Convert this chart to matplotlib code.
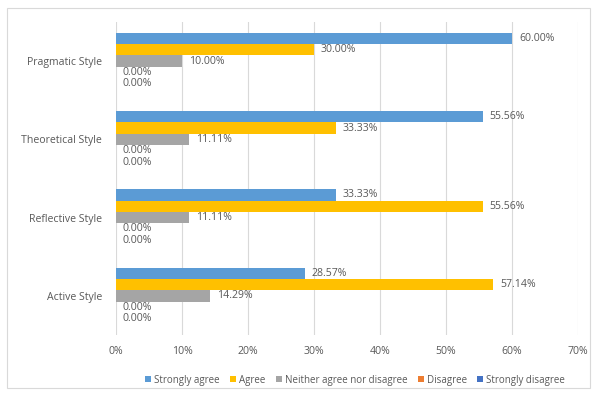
import matplotlib
matplotlib.use("Agg")
import matplotlib.pyplot as plt
from matplotlib.patches import Rectangle
import numpy as np

plt.rcParams['font.family'] = ['Open Sans', 'DejaVu Sans']

categories = ["Active Style", "Reflective Style", "Theoretical Style", "Pragmatic Style"]
series_names = ["Strongly agree", "Agree", "Neither agree nor disagree", "Disagree", "Strongly disagree"]
strongly_agree = [28.57, 33.33, 55.56, 60.00]
agree = [57.14, 55.56, 33.33, 30.00]
neither = [14.29, 11.11, 11.11, 10.00]
disagree = [0.0, 0.0, 0.0, 0.0]
strongly_disagree = [0.0, 0.0, 0.0, 0.0]
series = [strongly_agree, agree, neither, disagree, strongly_disagree]
colors = ["#5B9BD5", "#FFC000", "#A5A5A5", "#ED7D31", "#4472C4"]
xticks = [0, 10, 20, 30, 40, 50, 60, 70]

fig = plt.figure(figsize=(5.94, 3.94), dpi=100)
fig.patches.append(Rectangle((7/594, 1-388/394), 583/594, 380/394, transform=fig.transFigure,
                             fill=False, edgecolor="#D9D9D9", linewidth=0.8))
ax = fig.add_axes([116/594, 1-335/394, 462/594, 313/394])

h = 0.145
y = np.arange(len(categories))
txt_color = "#595959"
fs = 7.6
for i, (name, vals, c) in enumerate(zip(series_names, series, colors)):
    pos = y + (2 - i) * h
    ax.barh(pos, vals, height=h, color=c, label=name, zorder=3)
    for yy, v in zip(pos, vals):
        ax.annotate(f"{v:.2f}%", xy=(v, yy), xytext=(5, 0), textcoords="offset points",
                    va="center", ha="left", fontsize=fs, color=txt_color)

ax.set_xlim(0, 70)
ax.set_ylim(-0.5, 3.5)
ax.set_xticks(xticks)
ax.set_xticklabels([f"{t}%" for t in xticks], fontsize=fs, color=txt_color)
ax.set_yticks(y)
ax.set_yticklabels(categories, fontsize=fs, color=txt_color)
ax.tick_params(axis="both", length=0, pad=8)
ax.tick_params(axis="y", pad=10)
ax.xaxis.grid(True, color="#D9D9D9", linewidth=0.8, zorder=0)
for s in ax.spines.values():
    s.set_visible(False)

handles, labels = ax.get_legend_handles_labels()
fig.legend(handles, labels, loc="center", bbox_to_anchor=(355/594, 1-380/394), ncol=5,
           frameon=False, fontsize=7, labelcolor=txt_color, handlelength=0.6, handleheight=0.6,
           handletextpad=0.3, columnspacing=1.1)

fig.savefig("out.png", dpi=100)
